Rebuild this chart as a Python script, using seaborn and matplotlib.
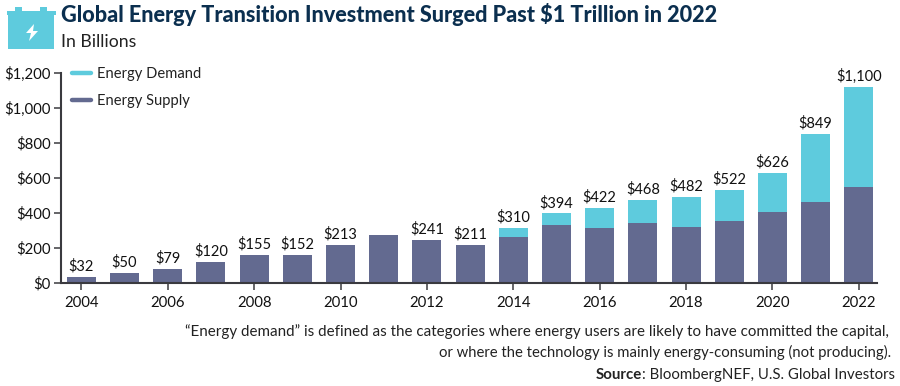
import matplotlib
matplotlib.use("Agg")
import matplotlib.pyplot as plt
from matplotlib.lines import Line2D
from matplotlib.patches import Rectangle, Polygon
import pandas as pd
import seaborn as sns

years = list(range(2004, 2023))
supply = [32, 55, 80, 120, 156, 156, 215, 271, 244, 215, 261, 328, 311, 339, 320, 352, 402, 461, 547]
demand = [0, 0, 0, 0, 0, 0, 0, 0, 0, 0, 50, 68, 114, 134, 168, 180, 226, 388, 571]
value_labels = ["$32", "$50", "$79", "$120", "$155", "$152", "$213", "", "$241", "$211", "$310", "$394",
                "$422", "$468", "$482", "$522", "$626", "$849", "$1,100"]
y_ticks = [0, 200, 400, 600, 800, 1000, 1200]
y_tick_labels = ["$0", "$200", "$400", "$600", "$800", "$1,000", "$1,200"]

SUPPLY = "#636A90"
DEMAND = "#5ECBDD"
DARK = "#3A3A3F"
NAVY = "#0B2F4F"
W, H = 900, 386

sns.set_theme(style="white")
plt.rcParams["font.family"] = ["Lato", "DejaVu Sans"]

df = pd.DataFrame({"year": years, "supply": supply, "demand": demand})
df["total"] = df["supply"] + df["demand"]

fig = plt.figure(figsize=(W / 100, H / 100), dpi=100)
ax = fig.add_axes([61.5 / W, 1 - 282.7 / H, (877 - 61.5) / W, (282.7 - 73) / H])

sns.barplot(data=df, x="year", y="demand", bottom=df["supply"], color=DEMAND, saturation=1,
            width=0.67, ax=ax, order=years, linewidth=0)
sns.barplot(data=df, x="year", y="supply", color=SUPPLY, saturation=1,
            width=0.67, ax=ax, order=years, linewidth=0)

ax.set_xlim(-0.46, 18.42)
ax.set_ylim(0, 1200)
ax.set_xlabel("")
ax.set_ylabel("")
ax.set_yticks(y_ticks, y_tick_labels, fontsize=10.7, color="#111111")
ax.set_xticks(range(0, 19, 2), [str(y) for y in years[::2]], fontsize=10.7, color="#111111")
ax.tick_params(axis="x", length=5, width=1.1, color=DARK, pad=4.3, bottom=True)
ax.tick_params(axis="y", length=5, width=1.1, color=DARK, pad=3, left=True)
for side in ["top", "right"]:
    ax.spines[side].set_visible(False)
for side in ["left", "bottom"]:
    ax.spines[side].set_color(DARK)
    ax.spines[side].set_linewidth(1.5)

for i, (total, lab) in enumerate(zip(df["total"], value_labels)):
    ax.annotate(lab, (i, total), xytext=(0, 2.5), textcoords="offset points", ha="center", va="bottom",
                fontsize=10.5, color="#111111")

handles = [Line2D([], [], color=DEMAND, lw=3.2, solid_capstyle="round"),
           Line2D([], [], color=SUPPLY, lw=3.2, solid_capstyle="round")]
ax.legend(handles, ["Energy Demand", "Energy Supply"], loc="upper left", frameon=False,
          bbox_to_anchor=(10.5 / (877 - 61.5), 1.03), borderaxespad=0, borderpad=0,
          handlelength=1.3, handletextpad=0.42, labelspacing=0.93, prop={"size": 10.6},
          labelcolor="#222222")

# battery icon
fig.add_artist(Rectangle((8 / W, 1 - 49 / H), 46 / W, 34 / H, transform=fig.transFigure, color=DEMAND, lw=0))
fig.add_artist(Rectangle((7 / W, 1 - 15 / H), 49 / W, 3.5 / H, transform=fig.transFigure, color=DEMAND, lw=0))
for x0 in (15, 40):
    fig.add_artist(Rectangle((x0 / W, 1 - 12 / H), 7 / W, 4.5 / H, transform=fig.transFigure, color=DEMAND, lw=0))
bolt = [(34, 24), (26, 33), (31, 33), (29, 41), (38, 31), (33, 31)]
fig.add_artist(Polygon([(x / W, 1 - y / H) for x, y in bolt], closed=True, transform=fig.transFigure,
                       color="white", lw=0))

fig.text(61 / W, 1 - 15 / H, "Global Energy Transition Investment Surged Past $1 Trillion in 2022",
         fontsize=15.6, fontweight="black", color=NAVY, va="center", ha="left")
fig.text(61 / W, 1 - 42 / H, "In Billions", fontsize=12.7, color="#222222", va="center", ha="left")

fig.text(889 / W, 1 - 332 / H,
         "\u201cEnergy demand\u201d is defined as the categories where energy users are likely to have committed the capital,",
         fontsize=10.9, color="#222222", ha="right", va="center")
fig.text(891 / W, 1 - 352 / H,
         "or where the technology is mainly energy-consuming (not producing).",
         fontsize=10.7, color="#222222", ha="right", va="center")
src = fig.text(895 / W, 1 - 375 / H, ": BloombergNEF, U.S. Global Investors", fontsize=10.8, color="#222222",
               ha="right", va="center")
fig.canvas.draw()
x0 = src.get_window_extent().x0
fig.text(x0 / W, 1 - 375 / H, "Source", fontsize=10.8, fontweight="bold", color="#222222", ha="right", va="center")

fig.savefig("out.png", dpi=100)
